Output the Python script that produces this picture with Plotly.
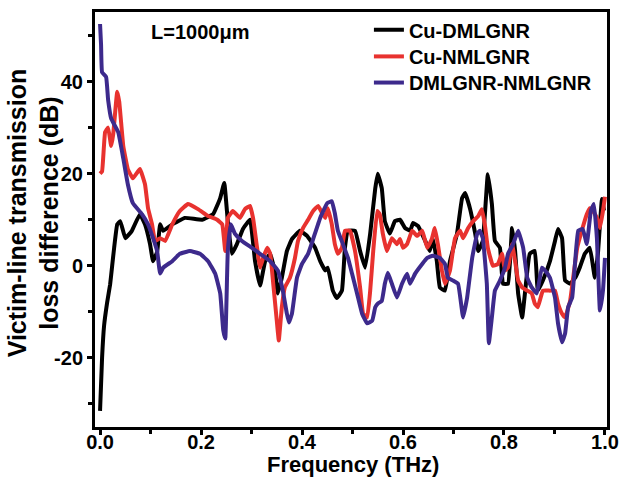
import plotly.graph_objects as go

# Cu-DMLGNR (black)
f_black = [0.000, 0.004, 0.008, 0.014, 0.020, 0.024, 0.028, 0.034, 0.040, 0.050,
           0.063, 0.079, 0.089, 0.099, 0.105, 0.113, 0.119, 0.125, 0.143, 0.168,
           0.202, 0.224, 0.238, 0.246, 0.253, 0.261, 0.271, 0.283, 0.297, 0.307,
           0.317, 0.327, 0.337, 0.347, 0.352, 0.360, 0.370, 0.380, 0.396, 0.410,
           0.426, 0.436, 0.446, 0.451, 0.461, 0.469, 0.479, 0.485, 0.491, 0.505,
           0.515, 0.525, 0.535, 0.545, 0.550, 0.558, 0.564, 0.574, 0.584, 0.594,
           0.604, 0.614, 0.620, 0.630, 0.644, 0.653, 0.659, 0.667, 0.673, 0.683,
           0.693, 0.707, 0.717, 0.723, 0.733, 0.743, 0.749, 0.758, 0.768, 0.776,
           0.782, 0.792, 0.798, 0.808, 0.816, 0.822, 0.828, 0.836, 0.842, 0.851,
           0.861, 0.867, 0.877, 0.891, 0.901, 0.907, 0.915, 0.921, 0.931, 0.941,
           0.950, 0.960, 0.970, 0.980, 0.986, 0.994, 0.998]
v_black = [-31.5, -20, -13, -8, -4, 0, 4, 9, 9.7, 6,
           7.6, 11.2, 9, 4.7, 1, 3, 9, 7.6, 9, 10.4,
           10, 11.2, 14.7, 18, 9.7, 2.6, 4.7, 8, 10, 1,
           -4.3, 1, 2.6, -1.7, -6, -2.6, 3.2, 5.8, 7.6, 6.5,
           3.9, 1, -1, -0.4, -5.4, -7, -5.4, 3.9, 7.6, 7.6,
           3.2, -0.4, 7, 16.8, 20, 16.8, 9.7, 7, 9.7, 10,
           8.2, 7.6, 9.3, 8.6, 5.4, 3.2, 6, 1, -4.7, -5.4,
           1, 7, 14.7, 15.8, 12.3, 7, 3.2, 5.4, 19.9, 13.4,
           5.4, 3.9, -3.9, -3.9, 8.2, 3.2, -6, -11.2, -5.4, 2.6,
           3.2, -5.4, -3.2, 1, 5.4, 8, 6, -3.2, -3.9, -2.6,
           -0.4, 2.6, 3.9, -2.6, 2.6, 14.5, 12]

# Cu-NMLGNR (red)
f_red = [0.000, 0.004, 0.010, 0.016, 0.022, 0.026, 0.034, 0.038, 0.046, 0.055,
         0.065, 0.079, 0.089, 0.095, 0.103, 0.109, 0.119, 0.129, 0.143, 0.158,
         0.174, 0.194, 0.214, 0.232, 0.242, 0.248, 0.253, 0.263, 0.277, 0.287,
         0.297, 0.303, 0.311, 0.317, 0.323, 0.331, 0.337, 0.343, 0.350, 0.354,
         0.360, 0.366, 0.376, 0.386, 0.392, 0.402, 0.412, 0.422, 0.432, 0.440,
         0.446, 0.451, 0.459, 0.465, 0.471, 0.479, 0.485, 0.495, 0.505, 0.515,
         0.521, 0.529, 0.535, 0.541, 0.549, 0.554, 0.560, 0.568, 0.578, 0.588,
         0.594, 0.600, 0.608, 0.618, 0.628, 0.638, 0.648, 0.657, 0.663, 0.669,
         0.677, 0.683, 0.693, 0.703, 0.713, 0.719, 0.729, 0.739, 0.749, 0.756,
         0.762, 0.768, 0.778, 0.788, 0.796, 0.802, 0.808, 0.816, 0.822, 0.828,
         0.836, 0.846, 0.855, 0.861, 0.867, 0.877, 0.891, 0.901, 0.907, 0.915,
         0.921, 0.931, 0.937, 0.945, 0.954, 0.964, 0.970, 0.976, 0.984, 0.990,
         0.996, 1.000]
v_red = [20, 20.5, 29, 30, 26, 28.5, 37.8, 35.6, 26, 21,
         19, 21, 17.7, 12.5, 9, 5.4, 6, 5.4, 9, 11.9,
         13.4, 12.3, 10.8, 10, 9, 3.2, 10.4, 11.9, 10.4, 12.3,
         13, 10.4, 3.9, -0.4, 1.7, 3.9, 2.6, -3.9, -11.9, -16.2,
         -9, -4.7, -2.6, 1.7, 5.4, 8.2, 10, 11.9, 13, 11.4,
         10.4, 12.5, 9, 4.7, 2.6, 3.9, 7.6, 7.6, 3.2, -4.7,
         -10.4, -11.2, -5.4, 3.2, 11.9, 11.2, 7, 3.2, 6, 4.7,
         5.8, 3.9, 4.7, 7.6, 6.5, 7.6, 3.9, 5.8, 8.2, 4.7,
         -1, -3.9, -1, 6, 7.6, 6, 8.2, 9.7, 10.8, 12.3,
         9, 3.9, 0, 0.4, 2.6, -1, -0.4, 4.7, 1, -3.2,
         -4.7, -5.4, -6, -8.2, -9, -5.4, -5.4, -5.4, -8.2, -10.4,
         -11.2, -7.6, -2.6, 3.9, 7.6, 11.2, 12.5, 11.9, 10.4, 8.2,
         11.9, 15]

# DMLGNR-NMLGNR (blue)
f_blue = [0.000, 0.002, 0.004, 0.012, 0.016, 0.022, 0.028, 0.036, 0.046, 0.055,
          0.065, 0.083, 0.095, 0.105, 0.113, 0.119, 0.125, 0.143, 0.158, 0.178,
          0.198, 0.214, 0.228, 0.238, 0.244, 0.248, 0.253, 0.259, 0.267, 0.281,
          0.301, 0.317, 0.337, 0.352, 0.362, 0.370, 0.374, 0.380, 0.390, 0.400,
          0.412, 0.422, 0.436, 0.450, 0.459, 0.465, 0.471, 0.481, 0.491, 0.499,
          0.509, 0.519, 0.529, 0.539, 0.545, 0.550, 0.558, 0.564, 0.570, 0.578,
          0.588, 0.598, 0.608, 0.614, 0.624, 0.638, 0.648, 0.659, 0.673, 0.683,
          0.689, 0.699, 0.709, 0.719, 0.727, 0.737, 0.747, 0.752, 0.758, 0.766,
          0.770, 0.776, 0.782, 0.792, 0.802, 0.808, 0.818, 0.828, 0.838, 0.846,
          0.855, 0.865, 0.875, 0.881, 0.891, 0.901, 0.907, 0.915, 0.921, 0.927,
          0.935, 0.941, 0.947, 0.956, 0.964, 0.972, 0.978, 0.984, 0.990, 0.996,
          1.000]
v_blue = [52.5, 48, 42, 41, 36, 32, 30.7, 29, 23.3, 17.7,
          13.6, 11.2, 9, 6, 3.2, -1.7, -0.4, 1, 2.6, 3.2,
          2.6, 1, -1.7, -6, -14, -15.8, 3.2, 9, 7, 5.4,
          3.9, 2.6, 1, -1, -5.4, -10.4, -12.3, -10.4, -2.6, 0.4,
          2.6, 5.8, 10.4, 13.6, 14, 11.4, 7.6, 4.7, 1.7, -1.7,
          -6, -10.4, -12.5, -11.9, -9, -8.2, -7.6, -3.9, -1.5, -3.9,
          -6.9, -3.9, -1.7, -3.9, -1.7, 0.4, 1.7, 2.2, 1.7, 0.4,
          -2.6, -3.2, -3.9, -11.2, -6.9, 1.7, 7, 7.6, 6, -3.9,
          -16.8, -11.2, -5.4, -3.2, -0.4, 2.6, 4.7, 7.6, 3.9, -2.6,
          -4.7, -6, -0.4, -1, -2.6, -6.9, -12.5, -16.6, -14.7, -9,
          -6.9, 1, 7.6, 8, 4.7, 11.9, 13.4, 6, -9.7, -5.4,
          1.7]

series_names = ["Cu-DMLGNR", "Cu-NMLGNR", "DMLGNR-NMLGNR"]
series_colors = ["#000000", "#e8322f", "#3d2a8c"]

x_ticks = [0.0, 0.2, 0.4, 0.6, 0.8, 1.0]
x_ticklabels = ["0.0", "0.2", "0.4", "0.6", "0.8", "1.0"]
y_ticks = [-20, 0, 20, 40]
y_ticklabels = ["-20", "0", "20", "40"]

FONT = "Liberation Sans, Arial, Helvetica, sans-serif"

fig = go.Figure()
legend_ids = ["legend", "legend2", "legend3"]
for fx, vy, name, col, lg in zip([f_black, f_red, f_blue], [v_black, v_red, v_blue],
                                 series_names, series_colors, legend_ids):
    fig.add_trace(go.Scatter(x=fx, y=vy, mode="lines", name=name, legend=lg,
                             line=dict(color=col, width=4, shape="spline", smoothing=0.3)))

fig.add_annotation(text="L=1000μm", xref="paper", yref="paper", x=0.205, y=0.952,
                   xanchor="center", yanchor="middle",
                   showarrow=False, font=dict(family=FONT, size=20, color="black", weight="bold"))
# axis titles
fig.add_annotation(text="Frequency (THz)", xref="paper", yref="paper", x=0.503, y=-0.091,
                   xanchor="center", yanchor="middle", showarrow=False,
                   font=dict(family=FONT, size=22, color="black", weight="bold"))
fig.add_annotation(text="Victim-line transmission<br>loss difference (dB)", xref="paper", yref="paper",
                   x=-0.121, y=0.515, xanchor="center", yanchor="middle", textangle=-90,
                   showarrow=False,
                   font=dict(family=FONT, size=25, color="black", weight="bold"))

axis_common = dict(showline=True, linewidth=3, linecolor="black", mirror=True,
                   ticks="outside", ticklen=5, tickwidth=2.5, tickcolor="black",
                   showgrid=False, zeroline=False, automargin=False,
                   tickfont=dict(family=FONT, size=20, color="black", weight="bold"))

fig.update_xaxes(range=[-0.01, 1.004], tickvals=x_ticks, ticktext=x_ticklabels,
                 ticklabelstandoff=-10,
                 minor=dict(dtick=0.1, ticks="outside", ticklen=4, tickwidth=2.5, tickcolor="black"),
                 **axis_common)
fig.update_yaxes(range=[-35, 55.1], tickvals=y_ticks, ticktext=y_ticklabels,
                 minor=dict(dtick=10, ticks="outside", ticklen=4, tickwidth=2.5, tickcolor="black"),
                 **axis_common)

legend_font = dict(family=FONT, size=20, color="black", weight="bold")
legend_common = dict(x=0.535, xanchor="left", yanchor="middle",
                     bgcolor="rgba(0,0,0,0)", borderwidth=0, font=legend_font)

fig.update_layout(
    width=621, height=483,
    margin=dict(l=95, r=14, t=10, b=56),
    plot_bgcolor="white", paper_bgcolor="white",
    showlegend=True,
    legend=dict(y=0.957, **legend_common),
    legend2=dict(y=0.893, **legend_common),
    legend3=dict(y=0.830, **legend_common),
)

fig.write_html("out.html", config={"displayModeBar": False},
               post_script="document.body.style.margin='0';document.body.style.padding='0';")
